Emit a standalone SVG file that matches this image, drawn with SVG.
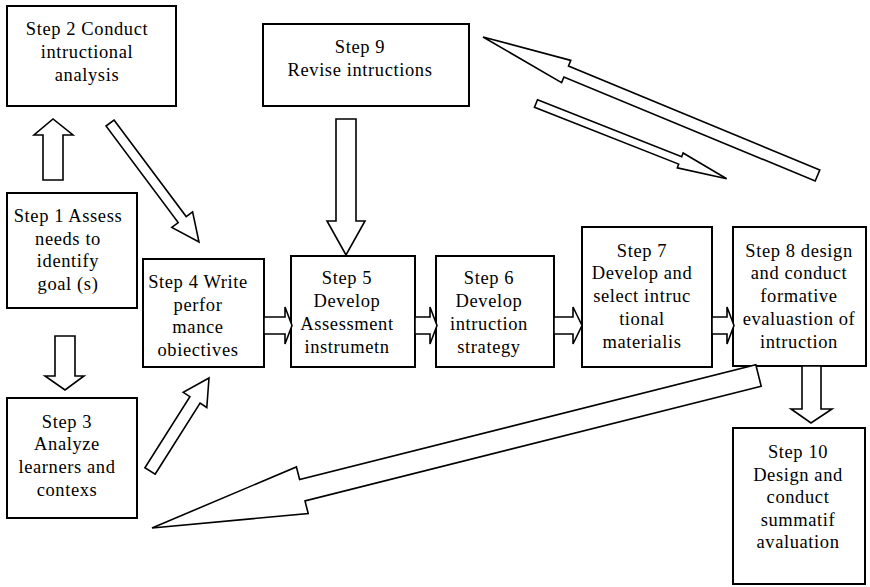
<svg xmlns="http://www.w3.org/2000/svg" width="870" height="587" viewBox="0 0 870 587">
  <style>
    .box { fill: #ffffff; stroke: #000000; stroke-width: 2; }
    .arrow { fill: #ffffff; stroke: #000000; stroke-width: 1.6; stroke-linejoin: miter; }
    text { font-family: "Liberation Serif", "Times New Roman", serif; font-size: 18.5px; letter-spacing: 0.6px; fill: #000000; text-anchor: middle; }
  </style>
  <defs>
    <clipPath id="clip-step6">
      <rect x="436" y="256" width="118" height="102"/>
    </clipPath>
  </defs>
  <rect width="870" height="587" fill="#ffffff"/>

  <!-- process steps -->
  <g id="step2">
    <rect class="box" x="7" y="6" width="169" height="100"/>
    <text x="87" y="35">Step 2 Conduct</text>
    <text x="87" y="58">intructional</text>
    <text x="87" y="81">analysis</text>
  </g>
  <g id="step9">
    <rect class="box" x="263" y="24" width="206" height="82"/>
    <text x="360" y="53">Step 9</text>
    <text x="360" y="76">Revise intructions</text>
  </g>
  <g id="step1">
    <rect class="box" x="7" y="193" width="130" height="115"/>
    <text x="68" y="222">Step 1 Assess</text>
    <text x="68" y="245">needs to</text>
    <text x="68" y="267">identify</text>
    <text x="68" y="290">goal (s)</text>
  </g>
  <g id="step3">
    <rect class="box" x="7" y="398" width="130" height="120"/>
    <text x="67" y="428">Step 3</text>
    <text x="67" y="450">Analyze</text>
    <text x="67" y="473">learners and</text>
    <text x="67" y="496">contexs</text>
  </g>
  <g id="step4">
    <rect class="box" x="143" y="259" width="121" height="108"/>
    <text x="198" y="288">Step 4 Write</text>
    <text x="198" y="311">perfor</text>
    <text x="198" y="333">mance</text>
    <text x="198" y="356">obiectives</text>
  </g>
  <g id="step5">
    <rect class="box" x="291" y="256" width="124" height="111"/>
    <text x="347" y="284">Step 5</text>
    <text x="347" y="307">Develop</text>
    <text x="347" y="330">Assessment</text>
    <text x="347" y="353">instrumetn</text>
  </g>
  <g id="step6">
    <rect class="box" x="436" y="256" width="118" height="111"/>
    <g clip-path="url(#clip-step6)">
      <text x="489" y="284">Step 6</text>
      <text x="489" y="307">Develop</text>
      <text x="489" y="330">intruction</text>
      <text x="489" y="353">strategy</text>
    </g>
  </g>
  <g id="step7">
    <rect class="box" x="582" y="227" width="130" height="140"/>
    <text x="642" y="257">Step 7</text>
    <text x="642" y="279">Develop and</text>
    <text x="642" y="302">select intruc</text>
    <text x="642" y="325">tional</text>
    <text x="642" y="348">materialis</text>
  </g>
  <g id="step8">
    <rect class="box" x="733" y="227" width="133" height="139"/>
    <text x="799" y="257">Step 8 design</text>
    <text x="799" y="279">and conduct</text>
    <text x="799" y="302">formative</text>
    <text x="799" y="325">evaluastion of</text>
    <text x="799" y="348">intruction</text>
  </g>
  <g id="step10">
    <rect class="box" x="733" y="428" width="132" height="156"/>
    <text x="798" y="458">Step 10</text>
    <text x="798" y="481">Design and</text>
    <text x="798" y="503">conduct</text>
    <text x="798" y="526">summatif</text>
    <text x="798" y="548">avaluation</text>
  </g>

  <!-- block arrows between steps -->
  <g id="connectors">
    <!-- step 1 up to step 2 -->
    <polygon class="arrow" points="43,180 43,135 34,135 53,119 73,135 63,135 63,180"/>
    <!-- step 2 down to step 4 -->
    <polygon class="arrow" points="114,120 186.2,216.6 192.6,211.8 199,242 171.8,227.4 178.2,222.6 106,126"/>
    <!-- step 1 down to step 3 -->
    <polygon class="arrow" points="55,336 75,336 75,376 84,376 65,390 45,376 55,376"/>
    <!-- step 3 up to step 4 -->
    <polygon class="arrow" points="155.1,474.2 200.1,403.1 206.8,407.5 209,378 183.2,392.3 189.9,396.7 144.9,467.8"/>
    <!-- step 9 down to step 5 -->
    <polygon class="arrow" points="336,119 356,119 356,221 365,221 346,255 327,221 336,221"/>
    <!-- horizontal chain 4 > 5 > 6 > 7 > 8 -->
    <polygon class="arrow" points="264,317 285,317 285,307 292,325.5 285,344 285,334 264,334"/>
    <polygon class="arrow" points="415,317 430,317 430,307 437,325.5 430,344 430,334 415,334"/>
    <polygon class="arrow" points="554,317 573,317 573,307 582,325.5 573,344 573,334 554,334"/>
    <polygon class="arrow" points="712,317 727,317 727,307 734,325.5 727,344 727,334 712,334"/>
    <!-- step 8 down to step 10 -->
    <polygon class="arrow" points="802,366 821,366 821,409 832,409 811,423 791,409 802,409"/>
    <!-- long arrow back toward step 9 -->
    <polygon class="arrow" points="819.8,170 568.5,66 570.8,60.4 483,37 561.6,82.6 563.9,77 815.2,181"/>
    <!-- arrow from step 9 side to step 8 -->
    <polygon class="arrow" points="537.5,99.8 681.7,156.7 683.1,153 726.7,178.8 677.3,167.8 678.7,164.1 534.5,107.2"/>
    <!-- long return arrow from step 8 -->
    <polygon class="arrow" points="761.2,386.2 305,500.9 308.2,513.5 152,528 296.4,466.9 299.6,479.5 755.8,364.8"/>
  </g>
</svg>
